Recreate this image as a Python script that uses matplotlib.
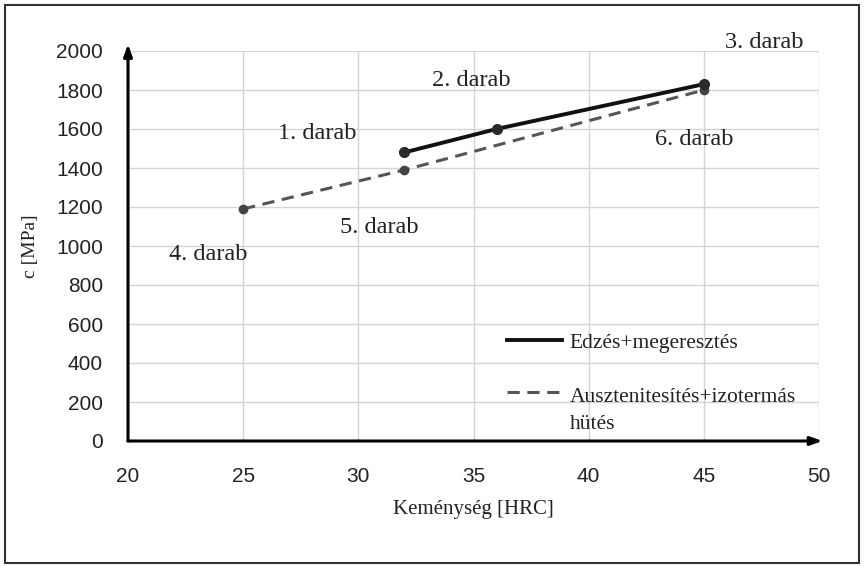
import matplotlib.pyplot as plt
from matplotlib.lines import Line2D

# adatok
hrc_edzes = [32, 36, 45]
c_edzes = [1480, 1600, 1830]
hrc_auszt = [25, 32, 45]
c_auszt = [1190, 1390, 1800]

label_edzes = "Edzés+megeresztés"
label_auszt = "Ausztenitesítés+izotermás\nhütés"

darab_labels = ["1. darab", "2. darab", "3. darab", "4. darab", "5. darab", "6. darab"]
darab_pos = [(28.2, 1575), (34.9, 1850), (47.6, 2045), (23.5, 955), (30.9, 1095), (44.6, 1545)]

x_ticks = [20, 25, 30, 35, 40, 45, 50]
y_ticks = list(range(0, 2001, 200))

serif = "Liberation Serif"
sans = "Liberation Sans"
txt_col = "#222222"

fig = plt.figure(figsize=(8.64, 5.66), dpi=100)
ax = fig.add_axes([128 / 864, 1 - 441 / 566, 691 / 864, 390 / 566])

# keret a kép körül
fig.patches.append(plt.Rectangle((0.006, 0.006), 0.988, 0.985, transform=fig.transFigure,
                                 fill=False, edgecolor="#333333", linewidth=1.5))

solid_kw = dict(color="#111111", linewidth=2.8)
dash_kw = dict(color="#555555", linewidth=2.2, linestyle=(0, (4, 2.5)))

ax.plot(hrc_edzes, c_edzes, marker="o", markersize=7, markerfacecolor="#2a2a2a",
        markeredgecolor="#2a2a2a", zorder=4, **solid_kw)
ax.plot(hrc_auszt, c_auszt, marker="o", markersize=6, markerfacecolor="#444444",
        markeredgecolor="#444444", zorder=3, **dash_kw)

for txt, (x, y) in zip(darab_labels, darab_pos):
    ax.text(x, y, txt, fontsize=17.5, family=serif, ha="center", va="center",
            color=txt_col, clip_on=False)

ax.set_xlim(20, 50)
ax.set_ylim(0, 2000)
ax.set_xticks(x_ticks)
ax.set_yticks(y_ticks)
ax.grid(True, color="#d4d4d4", linewidth=1)
ax.set_axisbelow(True)
for s in ax.spines.values():
    s.set_visible(False)
ax.tick_params(length=0, labelsize=15, colors=txt_col)
ax.tick_params(axis="x", pad=19)
ax.tick_params(axis="y", pad=18)
for lab in ax.get_xticklabels() + ax.get_yticklabels():
    lab.set_family(sans)

# tengely nyilak
arrow = dict(arrowstyle="-|>,head_length=0.7,head_width=0.25",
             color="black", linewidth=2.2, shrinkA=0, shrinkB=0)
ax.annotate("", xy=(20, 2035), xytext=(20, 0), annotation_clip=False, arrowprops=arrow)
ax.annotate("", xy=(50.15, 0), xytext=(20, 0), annotation_clip=False, arrowprops=arrow)

ax.set_xlabel("Keménység [HRC]", fontsize=15, family=serif, labelpad=10, color=txt_col)
ax.set_ylabel("c [MPa]", fontsize=14, family=serif, labelpad=12, color=txt_col)

handles = [Line2D([], [], **solid_kw), Line2D([], [], **dash_kw)]
leg = ax.legend(handles, [label_edzes, label_auszt], loc="upper left",
                bbox_to_anchor=(0.521, 0.328), frameon=False,
                prop={"family": serif, "size": 15.5}, handlelength=2.55,
                handletextpad=0.35, labelspacing=1.63)
for t in leg.get_texts():
    t.set_color(txt_col)
    t.set_linespacing(1.6)
# a szaggatott jel az első sorhoz igazodjon
dl = leg.legend_handles[1]
dl.set_ydata([v + 13 for v in dl.get_ydata()])

fig.savefig("out.png", dpi=100)
